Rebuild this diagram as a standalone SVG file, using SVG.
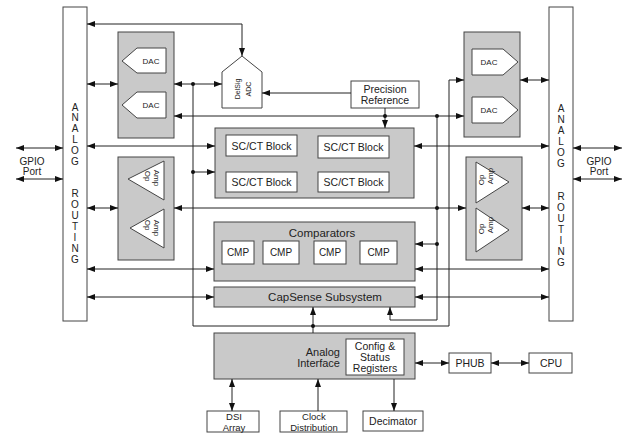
<svg xmlns="http://www.w3.org/2000/svg" width="630" height="438" viewBox="0 0 630 438">
<style>
text{font-family:"Liberation Sans",Arial,sans-serif;fill:#222;text-anchor:middle}
.bar{fill:#fff;stroke:#444;stroke-width:1}
.gray{fill:#c9c9c9;stroke:#444;stroke-width:1}
.wb{fill:#fff;stroke:#444;stroke-width:1}
.ln{fill:none;stroke:#222;stroke-width:1}
.ba{marker-start:url(#ah);marker-end:url(#ah)}
.ea{marker-end:url(#ah)}
.dot{fill:#111}
.rt{font-size:10px;fill:#1c2648}
.s7{font-size:7px}
.s8{font-size:8px}
.s9{font-size:9.5px}
.s10{font-size:10px}
.s105{font-size:10.5px}
.s11{font-size:11px}
</style>
<defs>
<marker id="ah" markerUnits="userSpaceOnUse" markerWidth="8" markerHeight="6" refX="8" refY="3" orient="auto-start-reverse">
<path d="M0,0 L8,3 L0,6 z" fill="#111"/>
</marker>
</defs>
<rect width="630" height="438" fill="#fff"/>

<g id="routing-left">
<rect class="bar" x="63" y="7" width="24" height="314"/>
<g class="rt">
<text x="75" y="111">A</text><text x="75" y="121">N</text><text x="75" y="132">A</text><text x="75" y="143">L</text><text x="75" y="154">O</text><text x="75" y="165">G</text>
<text x="75" y="197">R</text><text x="75" y="208">O</text><text x="75" y="219">U</text><text x="75" y="230">T</text><text x="75" y="241">I</text><text x="75" y="252">N</text><text x="75" y="263">G</text>
</g>
</g>
<g id="routing-right">
<rect class="bar" x="549" y="7" width="24" height="314"/>
<g class="rt">
<text x="561" y="112">A</text><text x="561" y="123">N</text><text x="561" y="134">A</text><text x="561" y="145">L</text><text x="561" y="156">O</text><text x="561" y="167">G</text>
<text x="561" y="200">R</text><text x="561" y="211">O</text><text x="561" y="222">U</text><text x="561" y="233">T</text><text x="561" y="244">I</text><text x="561" y="255">N</text><text x="561" y="266">G</text>
</g>
</g>
<g id="gpio-left" class="s10"><text x="32" y="165">GPIO</text><text x="32" y="175">Port</text></g>
<g id="gpio-right" class="s10"><text x="599" y="165">GPIO</text><text x="599" y="175">Port</text></g>

<g id="dac-left">
<rect class="gray" x="118" y="32" width="56" height="106"/>
<path class="wb" d="M122,61 L137,48 H166 V73 H137 Z"/>
<text class="s8" x="151" y="64">DAC</text>
<path class="wb" d="M122,105 L137,92 H166 V118 H137 Z"/>
<text class="s8" x="151" y="108">DAC</text>
</g>
<g id="dac-right">
<rect class="gray" x="464" y="32" width="56" height="105"/>
<path class="wb" d="M472,49 H503 L518,62 L503,75 H472 Z"/>
<text class="s8" x="489" y="65">DAC</text>
<path class="wb" d="M472,97 H503 L518,110 L503,123 H472 Z"/>
<text class="s8" x="489" y="113">DAC</text>
</g>

<g id="adc">
<path class="wb" d="M242,56 L262,72 V108 H222 V72 Z"/>
<text class="s7" transform="translate(237,89) rotate(-90)" y="2.5">DelSig</text>
<text class="s7" transform="translate(248,89) rotate(-90)" y="2.5">ADC</text>
</g>

<g id="precision-reference">
<rect class="wb" x="351" y="81" width="68" height="27"/>
<text class="s105" x="385" y="93">Precision</text>
<text class="s105" x="385" y="104">Reference</text>
</g>

<g id="sc-ct">
<rect class="gray" x="215" y="128" width="199" height="70"/>
<rect class="wb" x="226" y="135" width="71" height="21"/>
<text class="s105" x="261.5" y="149.5">SC/CT Block</text>
<rect class="wb" x="318" y="136" width="71" height="22"/>
<text class="s105" x="353.5" y="151">SC/CT Block</text>
<rect class="wb" x="226" y="172" width="71" height="20"/>
<text class="s105" x="261.5" y="185.5">SC/CT Block</text>
<rect class="wb" x="318" y="172" width="71" height="20"/>
<text class="s105" x="353.5" y="185.5">SC/CT Block</text>
</g>

<g id="opamp-left">
<rect class="gray" x="118" y="157" width="56" height="103"/>
<path class="wb" d="M128,179 L164,161 V200 Z"/>
<text class="s8" transform="translate(148,176) rotate(90)" y="3">Op</text>
<text class="s8" transform="translate(157,178) rotate(90)" y="3">Amp</text>
<path class="wb" d="M130,228 L164,209 V248 Z"/>
<text class="s8" transform="translate(148,225) rotate(90)" y="3">Op</text>
<text class="s8" transform="translate(157,228) rotate(90)" y="3">Amp</text>
</g>
<g id="opamp-right">
<rect class="gray" x="466" y="157" width="56" height="103"/>
<path class="wb" d="M476,162 L509,182 L476,203 Z"/>
<text class="s8" transform="translate(481,180) rotate(-90)" y="3">Op</text>
<text class="s8" transform="translate(490,176) rotate(-90)" y="3">Amp</text>
<path class="wb" d="M476,208 L509,230 L476,252 Z"/>
<text class="s8" transform="translate(481,229) rotate(-90)" y="3">Op</text>
<text class="s8" transform="translate(490,225) rotate(-90)" y="3">Amp</text>
</g>

<g id="comparators">
<rect class="gray" x="214" y="222" width="201" height="59"/>
<text x="322" y="237" style="font-size:11.5px">Comparators</text>
<rect class="wb" x="222" y="241" width="32" height="23"/>
<text class="s10" x="238" y="256">CMP</text>
<rect class="wb" x="263" y="241" width="36" height="23"/>
<text class="s10" x="281" y="256">CMP</text>
<rect class="wb" x="314" y="241" width="32" height="23"/>
<text class="s10" x="330" y="256">CMP</text>
<rect class="wb" x="360" y="241" width="37" height="23"/>
<text class="s10" x="378.5" y="256">CMP</text>
</g>

<g id="capsense">
<rect class="gray" x="214" y="287" width="201" height="20"/>
<text x="325" y="301" style="font-size:11.5px">CapSense Subsystem</text>
</g>

<g id="analog-interface">
<rect class="gray" x="214" y="333" width="201" height="46"/>
<text class="s11" x="340" y="356" style="text-anchor:end">Analog</text>
<text class="s11" x="340" y="367" style="text-anchor:end">Interface</text>
<rect class="wb" x="346" y="339" width="58" height="36"/>
<text class="s105" x="375" y="350">Config &amp;</text>
<text class="s105" x="375" y="361">Status</text>
<text class="s105" x="375" y="372">Registers</text>
</g>

<g id="dsi-array">
<rect class="wb" x="207" y="411" width="52" height="21"/>
<text class="s9" x="234" y="419.5">DSI</text>
<text class="s9" x="234" y="430.5">Array</text>
</g>
<g id="clock-distribution">
<rect class="wb" x="280" y="411" width="67" height="21"/>
<text class="s9" x="314" y="419.5">Clock</text>
<text class="s9" x="314" y="430.5">Distribution</text>
</g>
<g id="decimator">
<rect class="wb" x="363" y="411" width="60" height="20"/>
<text class="s105" x="393" y="424.5">Decimator</text>
</g>
<g id="phub">
<rect class="wb" x="449" y="353" width="42" height="20"/>
<text class="s105" x="470" y="366.5">PHUB</text>
</g>
<g id="cpu">
<rect class="wb" x="529" y="353" width="43" height="20"/>
<text class="s105" x="551" y="366.5">CPU</text>
</g>

<g id="connectors">
<path class="ln ba" d="M242,56 V24 H87"/>
<path class="ln ba" d="M87,84 H118"/>
<path class="ln ba" d="M174,84 H222"/>
<path class="ln ea" d="M193,84 V326 H449 V80 H464"/>
<path class="ln ea" d="M193,172 H215"/>
<path class="ln ea" d="M351,93 H262"/>
<path class="ln ea" d="M385,108 V128"/>
<path class="ln ba" d="M174,116 H464"/>
<path class="ln ea" d="M437,116 V320 H390 V307"/>
<path class="ln ba" d="M87,146 H215"/>
<path class="ln ba" d="M414,146 H549"/>
<path class="ln ba" d="M87,208 H118"/>
<path class="ln ba" d="M174,208 H466"/>
<path class="ln ba" d="M522,208 H549"/>
<path class="ln ea" d="M437,244 H415"/>
<path class="ln ba" d="M87,269 H214"/>
<path class="ln ba" d="M415,269 H549"/>
<path class="ln ba" d="M87,297 H214"/>
<path class="ln ba" d="M415,297 H549"/>
<path class="ln ea" d="M313,333 V307"/>
<path class="ln ba" d="M520,80 H549"/>
<path class="ln ba" d="M16,148 H63"/>
<path class="ln ba" d="M16,179 H63"/>
<path class="ln ba" d="M573,148 H622"/>
<path class="ln ba" d="M573,179 H622"/>
<path class="ln ba" d="M232,379 V411"/>
<path class="ln ea" d="M318,411 V379"/>
<path class="ln ea" d="M394,379 V411"/>
<path class="ln ba" d="M415,363 H449"/>
<path class="ln ba" d="M491,363 H529"/>
<circle class="dot" cx="193" cy="84" r="2"/>
<circle class="dot" cx="193" cy="172" r="2"/>
<circle class="dot" cx="385" cy="116" r="2"/>
<circle class="dot" cx="437" cy="116" r="2"/>
<circle class="dot" cx="437" cy="208" r="2"/>
<circle class="dot" cx="437" cy="244" r="2"/>
<circle class="dot" cx="313" cy="326" r="2"/>
</g>
</svg>
